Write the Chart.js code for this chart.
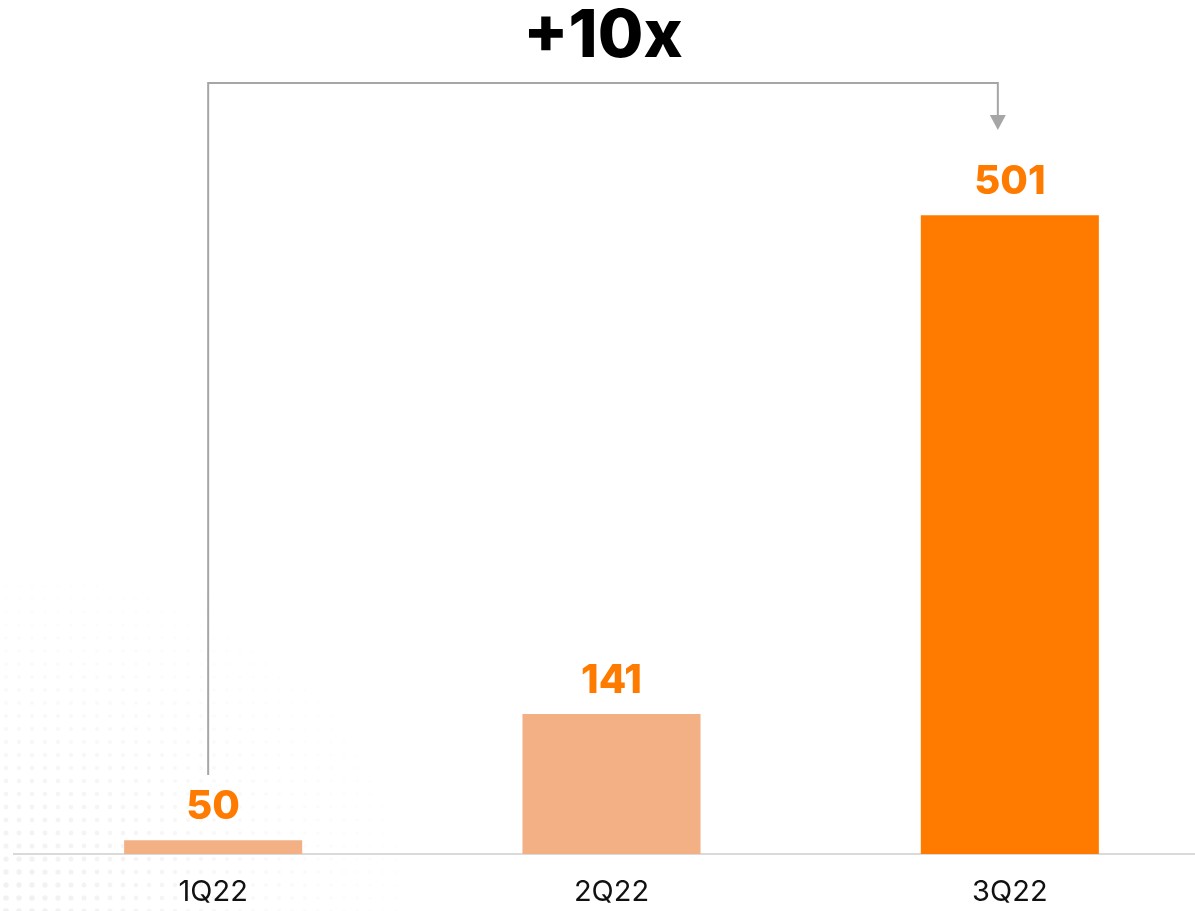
<!DOCTYPE html>
<html>
<head>
<meta charset="utf-8">
<script src="https://cdn.jsdelivr.net/npm/chart.js@4/dist/chart.umd.min.js"></script>
<style>
  html, body { margin: 0; padding: 0; background: #fff; overflow: hidden; }
  #wrap { position: relative; width: 1210px; height: 911px; }
</style>
</head>
<body>
<div id="wrap"><canvas id="chart"></canvas></div>
<script>
const quarters = ["1Q22", "2Q22", "3Q22"];
const volumes = [50, 141, 501];
const barColors = ["#F3B084", "#F3B084", "#FF7B00"];
const growthLabel = "+10x";

const labelFont = "800 40px Inter, 'Open Sans', sans-serif";
const orange = "#FF7B00";
const grey = "#A6A6A6";

// faint halftone dots fading out from the lower-left corner
const dotsBackground = {
  id: "dotsBackground",
  beforeDraw(chart) {
    const ctx = chart.ctx;
    const h = chart.height;
    ctx.save();
    for (let y = h; y > h - 340; y -= 13) {
      for (let x = 0; x < 520; x += 13) {
        const d = Math.hypot(x, (h - y) * 1.2) / 440;
        if (d > 1) continue;
        const a = 0.11 * (1 - d);
        ctx.fillStyle = `rgba(120,120,120,${a})`;
        ctx.beginPath();
        ctx.arc(x + ((y / 13) % 2 ? 6 : 0), y, 2.8 * (1 - d * 0.5), 0, Math.PI * 2);
        ctx.fill();
      }
    }
    ctx.restore();
  }
};

// value labels above bars plus the growth bracket
const annotations = {
  id: "annotations",
  afterDatasetsDraw(chart) {
    const ctx = chart.ctx;
    const xs = chart.scales.x;
    const meta = chart.getDatasetMeta(0);
    ctx.save();
    ctx.font = labelFont;
    ctx.fillStyle = orange;
    ctx.textAlign = "center";
    ctx.textBaseline = "alphabetic";
    meta.data.forEach((bar, i) => {
      ctx.fillText(String(volumes[i]), bar.x, bar.y - 21);
    });

    const x0 = xs.getPixelForValue(0) - 5;
    const x1 = xs.getPixelForValue(2) - 12;
    const top = 83;
    const startY = 775;
    const tipY = 130;
    ctx.strokeStyle = grey;
    ctx.lineWidth = 2;
    ctx.beginPath();
    ctx.moveTo(x0, startY);
    ctx.lineTo(x0, top);
    ctx.lineTo(x1, top);
    ctx.lineTo(x1, tipY - 14);
    ctx.stroke();
    ctx.fillStyle = grey;
    ctx.beginPath();
    ctx.moveTo(x1 - 8, tipY - 15);
    ctx.lineTo(x1 + 8, tipY - 15);
    ctx.lineTo(x1, tipY);
    ctx.closePath();
    ctx.fill();

    ctx.fillStyle = "#000";
    ctx.font = "800 66px Inter, 'Open Sans', sans-serif";
    ctx.fillText(growthLabel, (x0 + x1) / 2, 57);
    ctx.restore();
  }
};

new Chart(document.getElementById("chart"), {
  type: "bar",
  data: {
    labels: quarters,
    datasets: [{
      data: volumes,
      backgroundColor: barColors,
      borderWidth: 0,
      barPercentage: 1,
      categoryPercentage: 0.447
    }]
  },
  options: {
    responsive: true,
    maintainAspectRatio: false,
    animation: false,
    layout: { padding: { left: 14, right: 1, top: 78, bottom: 0 } },
    plugins: {
      legend: { display: false },
      tooltip: { enabled: false }
    },
    scales: {
      x: {
        afterFit(scale) { scale.height = 57; },
        grid: { display: false, drawTicks: false },
        border: { display: true, color: "#DADADA", width: 2 },
        ticks: {
          color: "#111",
          padding: 21,
          font: { family: "Inter, 'Open Sans', sans-serif", size: 29, weight: "400" }
        }
      },
      y: {
        display: false,
        min: 40,
        max: 600
      }
    }
  },
  plugins: [dotsBackground, annotations]
});
</script>
</body>
</html>
